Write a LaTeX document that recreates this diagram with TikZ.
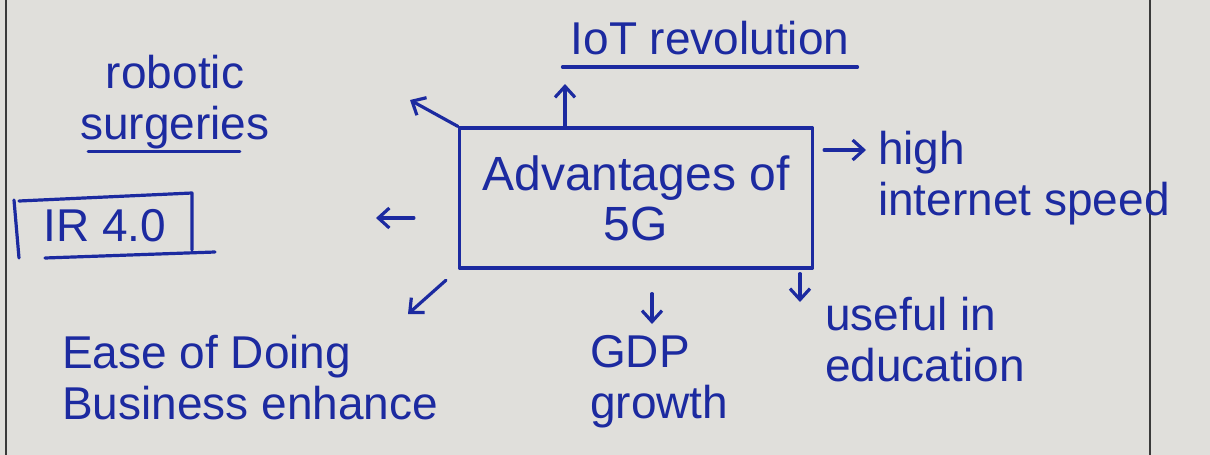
\documentclass[tikz,border=0pt]{standalone}
\usepackage{fontspec}
\setmainfont{Liberation Sans}
\usepackage{xcolor}
\usepackage{tikz}
\usetikzlibrary{
    arrows.meta,
    positioning,
    calc
}
\definecolor{inkblue}{HTML}{1C2AA0}
\definecolor{paper}{HTML}{E0DFDB}
\definecolor{ruling}{HTML}{3A3A3A}
\tikzset{
    ink line/.style={
        draw=inkblue, line width=3.2pt,
        line cap=round, line join=round
    },
    ink arrow/.style={
        ink line, -{Straight Barb[length=11pt, width=20pt]}
    },
    note/.style={
        text=inkblue, inner sep=0pt, align=#1,
        font=\fontsize{46}{51}\selectfont
    },
    note/.default=center,
    core box/.style={
        ink line, rectangle, text=inkblue,
        minimum width=353pt, minimum height=140pt,
        align=center, inner sep=0pt,
        font=\fontsize{48}{50}\selectfont
    },
}
\begin{document}
\begin{tikzpicture}[x=1pt, y=-1pt]

    % Paper and page rulings
    \fill[paper] (0,0) rectangle (1210,455);
    \useasboundingbox (0,0) rectangle (1210,455);
    \draw[ruling, line width=1.6pt] (6,0) -- (6,455);
    \draw[ruling, line width=1.6pt] (1150,0) -- (1150,455);

    % Central topic
    \node[core box] (core) at (636,198) {Advantages of\\5G};

    % Branches
    \node[note] (iot) at (710,38) {IoT revolution};
    \node[note] (robot) at (175,102) {robotic\\surgeries};
    \node[note] (ir) at (105,226) {IR 4.0};
    \node[note=left, anchor=west] (speed) at (878,178) {high\\internet speed};
    \node[note=left, anchor=west] (business) at (62,378) {Ease of Doing\\Business enhance};
    \node[note=left, anchor=west] (gdp) at (590,382) {GDP\\growth};
    \node[note=left, anchor=west] (edu) at (825,340) {useful in\\education};

    % Underlines and the IR frame
    \draw[ink line] ([xshift=-8pt, yshift=-12pt]iot.south west) -- ([xshift=8pt, yshift=-12pt]iot.south east);
    \draw[ink line] ([xshift=8pt, yshift=-2pt]robot.south west) -- ([xshift=-30pt, yshift=-2pt]robot.south east);
    \draw[ink line] (14,200) -- (19,258);
    \draw[ink line] (19,201) -- (192,193) -- (192,250);
    \draw[ink line] (45,258) -- (215,252);

    % Arrow ends
    \coordinate (robot tip) at (410,100);
    \coordinate (iot tip) at (565,84);
    \coordinate (ir tip) at (376,218);
    \coordinate (speed tip) at (866,150);
    \coordinate (business tip) at (408,314);
    \coordinate (gdp tip) at (652,324);
    \coordinate (edu tip) at (800,302);

    % Arrows
    \draw[ink arrow] (core.north west) -- (robot tip);
    \draw[ink arrow] (core.north -| iot tip) -- (iot tip);
    \draw[ink arrow, shorten <=44pt] (core.west |- ir tip) -- (ir tip);
    \draw[ink arrow, shorten <=10pt] (core.east |- speed tip) -- (speed tip);
    \draw[ink arrow, shorten <=16pt] (core.south west) -- (business tip);
    \draw[ink arrow, shorten <=24pt] (core.south -| gdp tip) -- (gdp tip);
    \draw[ink arrow, shorten <=4pt] (core.south -| edu tip) -- (edu tip);

\end{tikzpicture}
\end{document}
